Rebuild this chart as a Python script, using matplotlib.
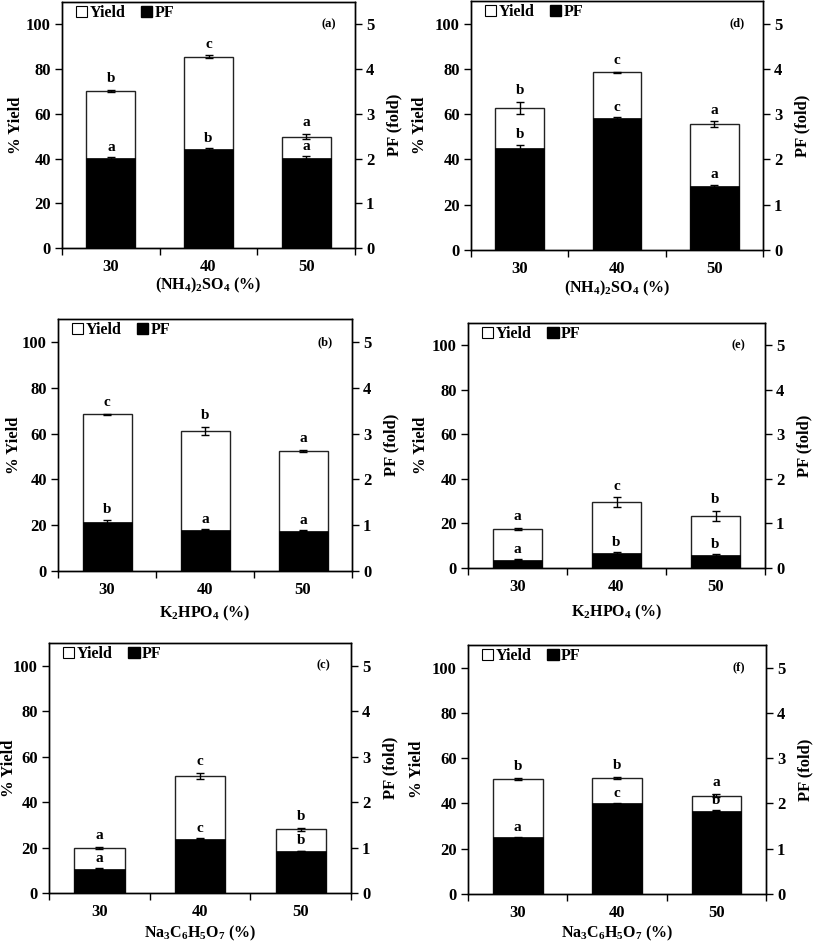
import numpy as np
import matplotlib.pyplot as plt
from matplotlib.patches import Patch

plt.rcParams['font.family'] = ['Liberation Serif', 'DejaVu Serif']
plt.rcParams['font.weight'] = 'bold'
plt.rcParams['mathtext.fontset'] = 'custom'
plt.rcParams['mathtext.rm'] = 'Liberation Serif:bold'
plt.rcParams['mathtext.it'] = 'Liberation Serif:bold'
plt.rcParams['mathtext.bf'] = 'Liberation Serif:bold'

cats = ['30', '40', '50']
panel_ids = ['a', 'b', 'c', 'd', 'e', 'f']
xlabels = {
    'a': r'(NH$_4$)$_2$SO$_4$ (%)',
    'd': r'(NH$_4$)$_2$SO$_4$ (%)',
    'b': r'K$_2$HPO$_4$ (%)',
    'e': r'K$_2$HPO$_4$ (%)',
    'c': r'Na$_3$C$_6$H$_5$O$_7$ (%)',
    'f': r'Na$_3$C$_6$H$_5$O$_7$ (%)',
}

# yield (%) and error
yield_vals = {
    'a': [70.2, 85.5, 49.8], 'd': [62.8, 78.5, 55.5],
    'b': [68.5, 61.2, 52.5], 'e': [17.5, 29.5, 23.5],
    'c': [19.7, 51.5, 28.0], 'f': [50.8, 51.3, 43.5],
}
yield_err = {
    'a': [0.6, 0.6, 1.2], 'd': [2.5, 0.2, 1.3],
    'b': [0.2, 1.8, 0.5], 'e': [0.6, 2.2, 2.3],
    'c': [0.5, 1.2, 0.5], 'f': [0.5, 0.5, 0.7],
}
# purification fold and error
pf_vals = {
    'a': [2.01, 2.22, 2.02], 'd': [2.25, 2.91, 1.41],
    'b': [1.07, 0.90, 0.875], 'e': [0.19, 0.34, 0.30],
    'c': [0.535, 1.19, 0.925], 'f': [1.25, 2.00, 1.84],
}
pf_err = {
    'a': [0.02, 0.02, 0.03], 'd': [0.08, 0.02, 0.03],
    'b': [0.05, 0.01, 0.01], 'e': [0.01, 0.02, 0.02],
    'c': [0.01, 0.01, 0.01], 'f': [0.01, 0.01, 0.01],
}
yield_letters = {
    'a': ['b', 'c', 'a'], 'd': ['b', 'c', 'a'],
    'b': ['c', 'b', 'a'], 'e': ['a', 'c', 'b'],
    'c': ['a', 'c', 'b'], 'f': ['b', 'b', 'a'],
}
pf_letters = {
    'a': ['a', 'b', 'a'], 'd': ['b', 'c', 'a'],
    'b': ['b', 'a', 'a'], 'e': ['a', 'b', 'b'],
    'c': ['a', 'c', 'b'], 'f': ['a', 'c', 'b'],
}

W, H = 813, 943
# layout in pixels: left, right, top, bottom of axes,
# then ylabel distance left of axes, xlabel distance below axes
boxes = {
    'a': (62, 355, 2, 248, 46, 37), 'd': (471, 763, 1, 250, 51, 38),
    'b': (58, 352, 319, 571, 44, 42), 'e': (468, 765, 323, 568, 47, 44),
    'c': (49, 351, 643, 893, 40, 40), 'f': (468, 766, 645, 894, 51, 39),
}

fig = plt.figure(figsize=(W / 100, H / 100), dpi=100)
x = np.arange(len(cats))
fs = 11
tfs = 12

for p in panel_ids:
    l, r, t, b, yoff, xoff = boxes[p]
    ax = fig.add_axes([l / W, 1 - b / H, (r - l) / W, (b - t) / H])
    ax2 = ax.twinx()

    ax.bar(x, yield_vals[p], 0.5, color='white', edgecolor='#222222', linewidth=1.0, zorder=2)
    ax.errorbar(x, yield_vals[p], yerr=yield_err[p], fmt='none', ecolor='black',
                elinewidth=1.0, capsize=3, capthick=1.0, zorder=3)
    ax2.bar(x, pf_vals[p], 0.5, color='black', edgecolor='black', linewidth=0.5, zorder=2)
    ax2.errorbar(x, pf_vals[p], yerr=pf_err[p], fmt='none', ecolor='black',
                 elinewidth=1.0, capsize=3, capthick=1.0, zorder=3)

    for i in range(len(cats)):
        ax.text(x[i], yield_vals[p][i] + yield_err[p][i] + 3.5, yield_letters[p][i],
                ha='center', va='baseline', fontsize=fs, fontweight='bold', zorder=5)
        ax2.text(x[i], pf_vals[p][i] + pf_err[p][i] + 0.14, pf_letters[p][i],
                 ha='center', va='baseline', fontsize=fs, fontweight='bold', zorder=5)

    ax.set_xlim(-0.5, 2.5)
    ax.set_ylim(0, 110)
    ax2.set_ylim(0, 5.5)
    ax.set_yticks([0, 20, 40, 60, 80, 100])
    ax2.set_yticks([0, 1, 2, 3, 4, 5])

    # tick marks between categories, labels centred
    ax.set_xticks([-0.5, 0.5, 1.5, 2.5])
    ax.set_xticklabels([])
    ax.set_xticks(x, minor=True)
    ax.set_xticklabels(cats, minor=True)
    ax.tick_params(axis='x', which='major', direction='out', length=5, width=1)
    ax.tick_params(axis='x', which='minor', length=0, pad=8, labelsize=tfs)
    ax.tick_params(axis='y', direction='out', length=5, width=1, pad=3, labelsize=tfs)
    ax2.tick_params(axis='y', direction='out', length=5, width=1, pad=3, labelsize=tfs)

    for sp in ax.spines.values():
        sp.set_linewidth(1.0)
    for sp in ax2.spines.values():
        sp.set_linewidth(1.0)

    ax.set_ylabel('% Yield', fontsize=12, fontweight='bold')
    ax.yaxis.label.set_va('center')
    ax.yaxis.set_label_coords(-yoff / (r - l), 0.5)
    ax2.set_ylabel('PF (fold)', fontsize=12, fontweight='bold')
    ax2.yaxis.label.set_va('center')
    ax2.yaxis.set_label_coords(1 + 39 / (r - l), 0.5)
    ax.set_xlabel(xlabels[p], fontsize=11.5, fontweight='bold')
    ax.xaxis.label.set_va('center')
    ax.xaxis.set_label_coords(0.5, -xoff / (b - t))

    ax.text(0.91, 100 / 110, '(%s)' % p, transform=ax.transAxes, ha='center', va='center',
            fontsize=9, fontweight='bold')

    handles = [Patch(facecolor='white', edgecolor='black', linewidth=0.8),
               Patch(facecolor='black', edgecolor='black')]
    ax.legend(handles, ['Yield', 'PF'], loc='upper left', bbox_to_anchor=(0.02, 1.02), ncol=2,
              frameon=False, fontsize=11.5, handlelength=0.7, handleheight=0.7,
              handletextpad=0.15, columnspacing=1.0, borderaxespad=0.1)

fig.savefig('out.png', dpi=100)
